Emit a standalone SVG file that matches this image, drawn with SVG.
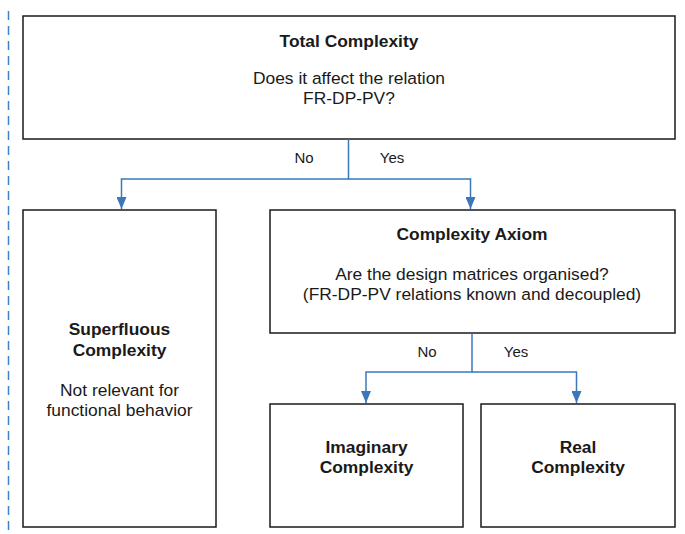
<svg xmlns="http://www.w3.org/2000/svg" width="685" height="534" viewBox="0 0 685 534">
  <style>
    .box { fill: #ffffff; stroke: #1a1a1a; stroke-width: 1.5; }
    .t { font-family: "Liberation Sans", Arial, sans-serif; font-size: 17.4px; fill: #1a1a1a; text-anchor: middle; }
    .b { font-weight: bold; }
    .lbl { font-family: "Liberation Sans", Arial, sans-serif; font-size: 15px; fill: #1a1a1a; text-anchor: middle; }
    .conn { fill: none; stroke: #3a78ba; stroke-width: 1.5; }
  </style>
  <defs>
    <!-- arrowhead drawn along +x, rotated by the path direction -->
    <marker id="arrow" viewBox="0 0 12 10" refX="12" refY="5" markerWidth="12" markerHeight="10" markerUnits="userSpaceOnUse" orient="auto">
      <path d="M0,0 L12,5 L0,10 Z" fill="#3a78ba"/>
    </marker>
  </defs>
  <rect width="685" height="534" fill="#ffffff"/>

  <!-- margin guide -->
  <line x1="8.5" y1="11" x2="8.5" y2="534" stroke="#3f82c8" stroke-width="1.5" stroke-dasharray="9 6"/>

  <g id="total-complexity">
    <rect class="box" x="23" y="16" width="652" height="123"/>
    <text class="t b" x="349" y="47">Total Complexity</text>
    <text class="t" x="349" y="84">Does it affect the relation</text>
    <text class="t" x="349" y="104">FR-DP-PV?</text>
  </g>

  <g id="superfluous-complexity">
    <rect class="box" x="23" y="210" width="193" height="317"/>
    <text class="t b" x="119.5" y="335">Superfluous</text>
    <text class="t b" x="119.5" y="356">Complexity</text>
    <text class="t" x="119.5" y="396">Not relevant for</text>
    <text class="t" x="119.5" y="416">functional behavior</text>
  </g>

  <g id="complexity-axiom">
    <rect class="box" x="270" y="210" width="405" height="123"/>
    <text class="t b" x="472" y="240">Complexity Axiom</text>
    <text class="t" x="472" y="280">Are the design matrices organised?</text>
    <text class="t" x="472" y="300">(FR-DP-PV relations known and decoupled)</text>
  </g>

  <g id="imaginary-complexity">
    <rect class="box" x="270" y="404" width="193" height="123"/>
    <text class="t b" x="366.5" y="453">Imaginary</text>
    <text class="t b" x="366.5" y="473">Complexity</text>
  </g>

  <g id="real-complexity">
    <rect class="box" x="481" y="404" width="194" height="123"/>
    <text class="t b" x="578" y="453">Real</text>
    <text class="t b" x="578" y="473">Complexity</text>
  </g>

  <g id="connectors">
    <path class="conn" d="M348.5,139 V179 H121.5 V209" marker-end="url(#arrow)"/>
    <path class="conn" d="M348.5,179 H470.5 V209" marker-end="url(#arrow)"/>
    <text class="lbl" x="304" y="163">No</text>
    <text class="lbl" x="392" y="163">Yes</text>

    <path class="conn" d="M472,333 V372 H366 V403" marker-end="url(#arrow)"/>
    <path class="conn" d="M472,372 H576.5 V403" marker-end="url(#arrow)"/>
    <text class="lbl" x="427" y="357">No</text>
    <text class="lbl" x="516" y="357">Yes</text>
  </g>
</svg>
